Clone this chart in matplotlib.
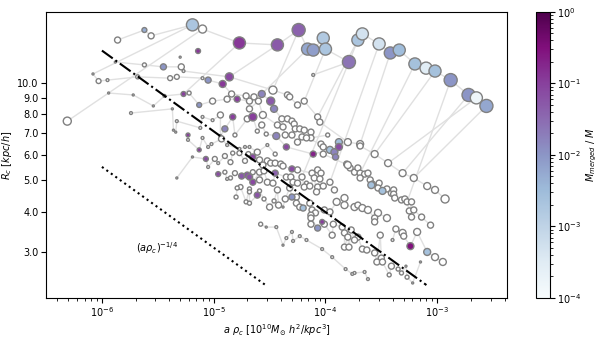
import numpy as np
import matplotlib
matplotlib.use('Agg')
import matplotlib.pyplot as plt
from matplotlib.colors import LogNorm
from matplotlib.ticker import FixedLocator, FixedFormatter, NullLocator

# halo tracks, rows: log10(a rho_c), log10(R_c), mass (arb.), M_merged/M (0 = none)
track_arc = [
    (-5.86, 1.133, 9, 0), (-5.62, 1.164, 6, 5e-3), (-5.56, 1.146, 9, 0),
    (-5.19, 1.180, 36, 2e-3), (-5.10, 1.167, 16, 0), (-4.77, 1.124, 36, 0.12),
    (-4.43, 1.118, 36, 0.05), (-4.24, 1.164, 42, 0.04), (-4.16, 1.105, 36, 6e-3),
    (-4.11, 1.102, 36, 8e-3), (-4.02, 1.139, 36, 1.6e-3), (-4.00, 1.105, 36, 2e-3),
    (-3.79, 1.065, 42, 0.025), (-3.71, 1.133, 36, 2e-3), (-3.67, 1.152, 36, 5e-4),
    (-3.52, 1.121, 36, 5e-4), (-3.42, 1.093, 36, 1e-2), (-3.34, 1.102, 36, 3e-3),
    (-3.20, 1.059, 36, 2.5e-3), (-3.10, 1.046, 36, 3e-4), (-3.02, 1.037, 36, 2.5e-3),
    (-2.88, 1.009, 42, 1e-2), (-2.72, 0.963, 42, 1e-2), (-2.65, 0.954, 36, 1.6e-4),
    (-2.56, 0.929, 42, 6e-3),
]
track_row65 = [
    (-5.88, 1.065, 1, 0), (-5.62, 1.056, 4, 0), (-5.45, 1.050, 9, 1e-2),
    (-5.29, 1.050, 9, 0), (-5.27, 1.037, 2, 0), (-4.86, 1.019, 16, 0.08),
    (-4.47, 0.978, 16, 0), (-4.34, 0.963, 9, 0), (-4.32, 0.957, 9, 0),
    (-4.25, 0.932, 9, 0), (-4.19, 0.944, 9, 0), (-4.07, 0.895, 9, 0),
    (-4.05, 0.879, 9, 0), (-3.80, 0.817, 12, 0), (-3.69, 0.811, 12, 0),
    (-3.69, 0.805, 9, 0), (-3.56, 0.780, 12, 0), (-3.44, 0.752, 12, 0),
    (-3.31, 0.721, 12, 0), (-3.21, 0.706, 12, 0), (-3.09, 0.681, 12, 0),
    (-3.02, 0.669, 12, 0), (-2.93, 0.641, 16, 0),
]
track_row80 = [
    (-6.08, 1.028, 1, 0), (-6.03, 1.006, 6, 0), (-5.95, 1.009, 2, 0),
    (-5.68, 1.019, 4, 0), (-5.39, 1.015, 6, 0), (-5.33, 1.019, 6, 0),
    (-5.10, 1.015, 2, 0), (-5.05, 1.009, 9, 1e-2), (-4.92, 0.997, 12, 0.12),
    (-4.84, 0.966, 9, 0), (-4.71, 0.960, 9, 0), (-4.64, 0.957, 9, 0),
    (-4.57, 0.966, 12, 0.016), (-4.49, 0.944, 16, 0.05), (-4.46, 0.920, 12, 0.016),
    (-4.39, 0.889, 9, 0), (-4.34, 0.889, 9, 0), (-4.30, 0.882, 9, 0),
    (-4.28, 0.873, 9, 0), (-4.27, 0.858, 9, 0), (-4.23, 0.858, 9, 0),
    (-4.19, 0.854, 9, 0), (-4.13, 0.848, 9, 0), (-4.13, 0.830, 9, 0),
    (-3.98, 0.839, 4, 0),
]
track_bandA = [
    (-3.81, 0.749, 9, 0), (-3.78, 0.737, 9, 0), (-3.74, 0.724, 9, 0),
    (-3.71, 0.737, 9, 0), (-3.69, 0.721, 9, 0), (-3.65, 0.718, 9, 0),
    (-3.62, 0.721, 9, 0), (-3.69, 0.706, 9, 0), (-3.60, 0.700, 9, 0),
    (-3.58, 0.687, 9, 0), (-3.52, 0.690, 9, 0), (-3.59, 0.684, 12, 2.5e-3),
    (-3.53, 0.675, 9, 0), (-3.49, 0.666, 12, 2.5e-3), (-3.45, 0.672, 9, 0),
    (-3.41, 0.659, 9, 0), (-3.39, 0.669, 9, 0), (-3.39, 0.656, 9, 0),
    (-3.38, 0.644, 9, 0), (-3.32, 0.638, 9, 0), (-3.29, 0.641, 9, 0),
    (-3.27, 0.632, 9, 0), (-3.23, 0.632, 9, 0), (-3.25, 0.604, 9, 0),
    (-3.21, 0.607, 9, 0), (-3.23, 0.585, 9, 0), (-3.14, 0.585, 9, 0),
    (-3.06, 0.560, 9, 0),
]
track_row100 = [
    (-5.94, 0.969, 1, 0), (-5.72, 0.963, 1, 0), (-5.54, 0.929, 1, 0),
    (-5.44, 0.960, 2, 0), (-5.27, 0.966, 6, 0.1), (-5.22, 0.969, 4, 0),
    (-5.13, 0.932, 6, 1e-2), (-5.01, 0.944, 9, 0), (-4.88, 0.950, 9, 0),
    (-4.79, 0.950, 9, 0.1), (-4.68, 0.944, 9, 0), (-4.60, 0.944, 9, 0),
    (-4.68, 0.920, 9, 0), (-4.56, 0.901, 12, 0), (-4.43, 0.870, 9, 0),
    (-4.38, 0.864, 9, 0), (-4.36, 0.839, 9, 0), (-4.30, 0.839, 9, 0),
    (-4.21, 0.833, 9, 0), (-4.17, 0.830, 9, 0), (-4.25, 0.817, 9, 0),
    (-4.04, 0.811, 9, 0), (-4.02, 0.802, 9, 0), (-4.02, 0.780, 9, 0),
    (-3.80, 0.746, 12, 0),
]
track_row120 = [
    (-5.74, 0.907, 2, 0), (-5.37, 0.920, 1, 0), (-5.33, 0.882, 2, 0),
    (-5.36, 0.854, 1, 0), (-5.34, 0.848, 1, 0), (-5.10, 0.895, 2, 0),
    (-5.12, 0.861, 2, 0), (-5.01, 0.885, 2, 0), (-4.94, 0.901, 9, 0),
    (-4.83, 0.895, 9, 0.1), (-4.70, 0.889, 9, 0), (-4.65, 0.895, 16, 0.1),
    (-4.57, 0.870, 9, 0), (-4.53, 0.842, 4, 0), (-4.44, 0.836, 12, 0.016),
    (-4.35, 0.802, 9, 0.08), (-4.90, 0.858, 9, 0.016), (-4.81, 0.839, 4, 0),
    (-4.61, 0.851, 4, 0), (-4.94, 0.836, 2, 0), (-4.11, 0.780, 9, 0.2),
    (-3.96, 0.793, 12, 2.5e-3), (-3.92, 0.786, 12, 0.016), (-3.88, 0.817, 12, 3e-3),
    (-3.88, 0.802, 12, 0.07), (-3.91, 0.771, 9, 0.016),
]
track_row150 = [
    (-5.23, 0.839, 4, 0.1), (-5.23, 0.824, 2, 0), (-5.10, 0.830, 2, 0),
    (-5.13, 0.793, 4, 0.1), (-5.05, 0.802, 2, 0), (-5.02, 0.811, 2, 0),
    (-4.93, 0.827, 9, 0), (-4.88, 0.808, 2, 0), (-4.77, 0.796, 2, 0),
    (-4.72, 0.802, 2, 0), (-4.68, 0.802, 2, 0), (-4.61, 0.786, 9, 0),
    (-4.52, 0.808, 2, 0), (-4.45, 0.780, 4, 0),
]
track_row160 = [
    (-5.33, 0.706, 1, 0), (-5.19, 0.771, 1, 0), (-5.07, 0.765, 6, 0.07),
    (-4.99, 0.765, 6, 0), (-5.05, 0.740, 2, 0), (-4.96, 0.752, 2, 0),
    (-4.90, 0.774, 6, 0), (-4.83, 0.783, 4, 0), (-4.85, 0.755, 6, 0),
    (-4.77, 0.783, 6, 0), (-4.69, 0.780, 6, 0), (-4.65, 0.771, 9, 0.08),
    (-4.72, 0.759, 6, 0), (-4.59, 0.762, 9, 0), (-4.52, 0.759, 9, 0),
    (-4.49, 0.752, 9, 0), (-4.56, 0.746, 9, 0), (-4.45, 0.752, 9, 0),
    (-4.40, 0.749, 9, 0), (-4.38, 0.743, 9, 0), (-4.30, 0.734, 9, 0.07),
    (-4.25, 0.731, 9, 0), (-4.12, 0.721, 9, 0), (-4.07, 0.731, 9, 0),
    (-4.04, 0.721, 9, 0),
]
track_row180 = [
    (-4.90, 0.724, 4, 0), (-4.96, 0.718, 6, 0.07), (-4.85, 0.706, 4, 0),
    (-4.88, 0.703, 2, 0), (-4.81, 0.721, 6, 0), (-4.75, 0.712, 9, 0.05),
    (-4.70, 0.715, 9, 0.06), (-4.65, 0.724, 6, 0), (-4.68, 0.709, 9, 0.06),
    (-4.65, 0.693, 9, 0.08), (-4.59, 0.724, 9, 0), (-4.55, 0.728, 9, 0),
    (-4.59, 0.700, 9, 0), (-4.52, 0.693, 9, 0), (-4.47, 0.690, 9, 0),
    (-4.45, 0.721, 9, 0.04), (-4.35, 0.709, 9, 0), (-4.31, 0.709, 9, 0),
    (-4.21, 0.709, 9, 0), (-4.10, 0.706, 9, 0), (-4.05, 0.703, 9, 0),
    (-4.29, 0.693, 9, 0), (-4.25, 0.690, 9, 0), (-4.17, 0.690, 4, 0),
    (-4.19, 0.678, 9, 0), (-4.14, 0.681, 9, 0), (-4.07, 0.678, 9, 0),
    (-4.02, 0.681, 9, 0), (-3.96, 0.693, 9, 0), (-3.92, 0.669, 9, 0),
    (-4.08, 0.663, 9, 0),
]
track_row195 = [
    (-4.76, 0.678, 6, 0), (-4.79, 0.675, 4, 0), (-4.80, 0.647, 4, 0),
    (-4.68, 0.672, 4, 0), (-4.68, 0.663, 4, 0), (-4.61, 0.653, 9, 0.06),
    (-4.59, 0.666, 4, 0), (-4.71, 0.632, 4, 0), (-4.68, 0.628, 4, 0),
    (-4.55, 0.641, 4, 0), (-4.50, 0.616, 9, 0), (-4.46, 0.635, 4, 0),
    (-4.43, 0.669, 9, 0), (-4.32, 0.675, 9, 0), (-4.30, 0.647, 9, 0.01),
    (-4.26, 0.647, 9, 0), (-4.36, 0.641, 9, 0), (-4.26, 0.628, 9, 0),
    (-4.23, 0.616, 9, 0), (-4.20, 0.613, 9, 2.5e-3), (-4.14, 0.628, 9, 0),
    (-4.12, 0.607, 9, 0), (-4.09, 0.598, 9, 0), (-4.13, 0.591, 9, 0),
    (-4.01, 0.607, 9, 0), (-3.96, 0.601, 9, 0), (-3.90, 0.632, 12, 0),
    (-3.83, 0.644, 12, 0), (-3.83, 0.622, 12, 0), (-3.74, 0.616, 12, 0),
    (-3.71, 0.622, 9, 0), (-3.67, 0.613, 12, 0), (-3.62, 0.607, 12, 0),
    (-3.53, 0.598, 12, 0), (-3.56, 0.582, 9, 0), (-3.45, 0.582, 12, 0),
    (-3.56, 0.570, 9, 0), (-4.42, 0.622, 9, 0), (-4.38, 0.616, 1, 0),
]
track_bandC = [
    (-4.03, 0.570, 6, 0.1), (-4.07, 0.551, 9, 0.01), (-4.13, 0.582, 9, 0),
    (-4.13, 0.563, 9, 0), (-4.01, 0.563, 9, 0), (-3.93, 0.563, 9, 0),
    (-3.85, 0.554, 9, 0), (-3.94, 0.529, 9, 0), (-3.83, 0.536, 9, 0),
    (-3.77, 0.545, 9, 0), (-3.80, 0.523, 9, 0), (-3.71, 0.523, 9, 0),
    (-3.74, 0.514, 9, 0), (-3.83, 0.492, 9, 0), (-3.79, 0.492, 9, 0),
    (-3.67, 0.486, 9, 0), (-3.63, 0.483, 9, 0), (-3.56, 0.474, 9, 0),
    (-3.50, 0.458, 9, 0), (-3.54, 0.446, 9, 0), (-3.49, 0.446, 9, 0),
    (-3.41, 0.433, 9, 0), (-3.51, 0.529, 9, 0), (-3.43, 0.406, 4, 0),
]
track_right = [
    (-3.40, 0.514, 2, 0), (-3.37, 0.548, 9, 0), (-3.31, 0.536, 12, 0),
    (-3.30, 0.526, 9, 0), (-3.18, 0.539, 12, 0), (-3.24, 0.495, 12, 0.3),
    (-3.09, 0.477, 12, 2.5e-3), (-3.02, 0.461, 12, 0), (-2.95, 0.446, 12, 0),
]
track_tail = [
    (-3.35, 0.424, 4, 0), (-3.32, 0.412, 4, 0), (-3.28, 0.433, 1, 0),
    (-3.27, 0.399, 4, 0), (-3.22, 0.381, 1, 0), (-3.15, 0.446, 1, 0),
]
track_low = [
    (-4.58, 0.563, 4, 0), (-4.53, 0.554, 1, 0), (-4.44, 0.554, 2, 0),
    (-4.35, 0.520, 2, 0), (-4.29, 0.511, 2, 0), (-4.38, 0.498, 1, 0),
    (-4.30, 0.539, 2, 0), (-4.23, 0.526, 2, 0), (-4.17, 0.514, 2, 0),
    (-4.03, 0.486, 2, 0), (-3.94, 0.461, 2, 0), (-3.82, 0.424, 2, 0),
    (-3.76, 0.409, 2, 0), (-3.74, 0.412, 2, 0), (-3.65, 0.415, 2, 0),
    (-3.62, 0.393, 2, 0),
]
loose = [
    (-6.31, 0.882, 16, 0), (-5.14, 1.099, 6, 0.12), (-5.30, 1.080, 1, 0),
    (-4.11, 1.025, 2, 0),
]

# progenitor links: log rho, log Rc  ->  log rho, log Rc
links = [
    (-6.31, 0.882, -5.10, 1.167), (-6.08, 1.028, -5.19, 1.180),
    (-3.79, 1.065, -4.21, 0.709), (-3.52, 1.121, -3.96, 0.693),
    (-3.42, 1.093, -3.69, 0.811), (-3.20, 1.059, -3.69, 0.721),
    (-3.02, 1.037, -3.56, 0.780), (-2.88, 1.009, -3.27, 0.632),
    (-2.72, 0.963, -3.31, 0.721), (-2.65, 0.954, -3.44, 0.752),
    (-2.56, 0.929, -3.21, 0.706), (-4.77, 1.124, -5.27, 0.966),
    (-4.43, 1.118, -4.86, 1.019), (-4.24, 1.164, -4.47, 0.978),
    (-4.16, 1.105, -4.57, 0.966), (-4.00, 1.105, -4.19, 0.944),
    (-3.71, 1.133, -4.07, 0.895), (-4.11, 1.025, -3.79, 1.065),
]

# power-law guides R ~ (a rho)^-1/4
slope = -0.25
dashdot_norm, dashdot_range = 12.6, (1e-6, 8e-4)
dotted_norm, dotted_range = 5.5, (1e-6, 3e-5)

yticks = [3, 4, 5, 6, 7, 8, 9, 10]

tracks = [track_arc, track_row65, track_row80, track_bandA, track_row100,
          track_row120, track_row150, track_row160, track_row180, track_row195,
          track_bandC, track_right, track_tail, track_low]

fig = plt.figure(figsize=(5.98, 3.4), dpi=100)
ax = fig.add_axes([0.077, 0.1235, 0.771, 0.8415])
cax = fig.add_axes([0.896, 0.1235, 0.0234, 0.8415])

cmap = plt.get_cmap('BuPu')
norm = LogNorm(1e-4, 1)

# connecting lines
for t in tracks:
    t = np.array(t)
    o = np.argsort(t[:, 0])
    ax.plot(10**t[o, 0], 10**t[o, 1], color='0.88', lw=1, zorder=1)
for l in links:
    ax.plot([10**l[0], 10**l[2]], [10**l[1], 10**l[3]], color='0.88', lw=1, zorder=1)

pts = np.vstack([np.array(t) for t in tracks] + [np.array(loose)])
empty = pts[:, 3] == 0
ax.scatter(10**pts[empty, 0], 10**pts[empty, 1], s=2.1*pts[empty, 2],
           facecolor='white', edgecolor='0.5', linewidth=1, zorder=2)
ax.scatter(10**pts[~empty, 0], 10**pts[~empty, 1], s=2.1*pts[~empty, 2],
           c=pts[~empty, 3], cmap=cmap, norm=norm,
           edgecolor='0.5', linewidth=1, zorder=3)

xx = np.array(dashdot_range)
ax.plot(xx, dashdot_norm*(xx/1e-6)**slope, color='k', ls='-.', lw=1.5, zorder=4)
xx = np.array(dotted_range)
ax.plot(xx, dotted_norm*(xx/1e-6)**slope, color='k', ls=':', lw=1.5, zorder=4)
ax.text(2.0e-6, 3.08, r'$(a\rho_c)^{-1/4}$', fontsize=7, va='center', ha='left')

ax.set_xscale('log')
ax.set_yscale('log')
ax.set_xlim(10**-6.5, 10**-2.375)
ax.set_ylim(2.16, 16.6)
ax.yaxis.set_major_locator(FixedLocator(yticks))
ax.yaxis.set_major_formatter(FixedFormatter([f'{v:.1f}' for v in yticks]))
ax.yaxis.set_minor_locator(NullLocator())
ax.tick_params(labelsize=7, pad=2)
ax.set_xlabel(r'$a\ \rho_c\ [10^{10}M_{\odot}\ h^2/kpc^3]$', fontsize=7, labelpad=2)
ax.set_ylabel(r'$R_c\ [kpc/h]$', fontsize=7, labelpad=2)

sm = plt.cm.ScalarMappable(norm=norm, cmap=cmap)
cb = fig.colorbar(sm, cax=cax)
cb.ax.tick_params(labelsize=7, pad=2)
cb.set_label(r'$M_{merged}\ /\ M$', fontsize=7, labelpad=2)

plt.savefig('out.png', dpi=100)
